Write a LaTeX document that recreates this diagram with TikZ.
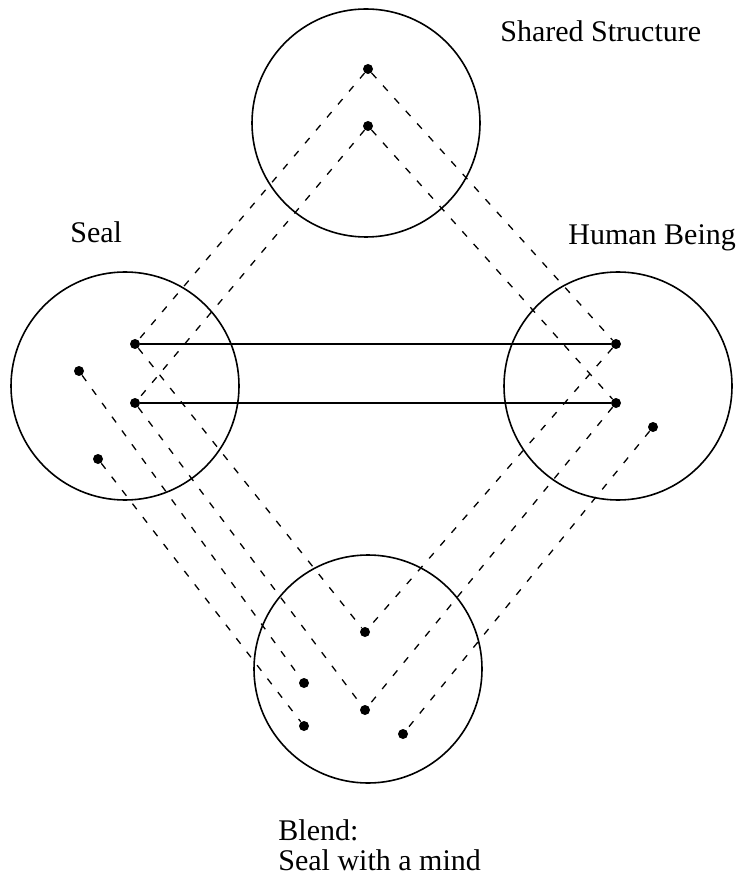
\documentclass[tikz,border=0pt]{standalone}
\usepackage{fontspec}
\setmainfont{Liberation Serif}
\begin{document}
\begin{tikzpicture}[x=0.5pt,y=-0.5pt]
	\tikzset{
		space/.style={draw, circle, line width=0.8pt, minimum size=228pt*0.5, inner sep=0pt},
		dot/.style={fill, circle, inner sep=0pt, minimum size=5pt},
		link/.style={line width=0.65pt, dash pattern=on 3.5pt off 5pt},
		counterpart/.style={line width=0.7pt},
		label/.style={anchor=base west, inner sep=0pt, align=left, font=\fontsize{15pt}{15pt}\selectfont}
	}
	\useasboundingbox (0,0) rectangle (746,876);
	% the four spaces
	\foreach \name/\x/\y in {shared/366/123, seal/125/386, human/618/386, blend/368/669}
	{
		\node [space] (\name) at (\x,\y) {};
	}
	% elements
	\foreach \name/\x/\y in
	{
		s1/368/69, s2/368/126,
		l1/135/344, l2/135/403, l3/79/371, l4/98/459,
		h1/616/344, h2/616/403, h3/653/427,
		b1/365/632, b2/365/710, b3/304/683, b4/304/726, b5/403/734
	}
	{
		\node [dot] (\name) at (\x,\y) {};
	}
	% projections
	\foreach \a/\b in {s1/l1, s1/h1, s2/l2, s2/h2, l1/b1, h1/b1, l2/b2, h2/b2, l3/b3, l4/b4, h3/b5}
	{
		\draw [link] (\a) -- (\b);
	}
	\draw [counterpart] (l1) -- (h1);
	\draw [counterpart] (l2) -- (h2);
	\node [label] (sharedlabel) at (500,42) {Shared Structure};
	\node [label] (seallabel) at (70,243) {Seal};
	\node [label] (humanlabel) at (568,245) {Human Being};
	\node [label] (blendlabel) at (278,870) {Blend:\\Seal with a mind};
\end{tikzpicture}
\end{document}
